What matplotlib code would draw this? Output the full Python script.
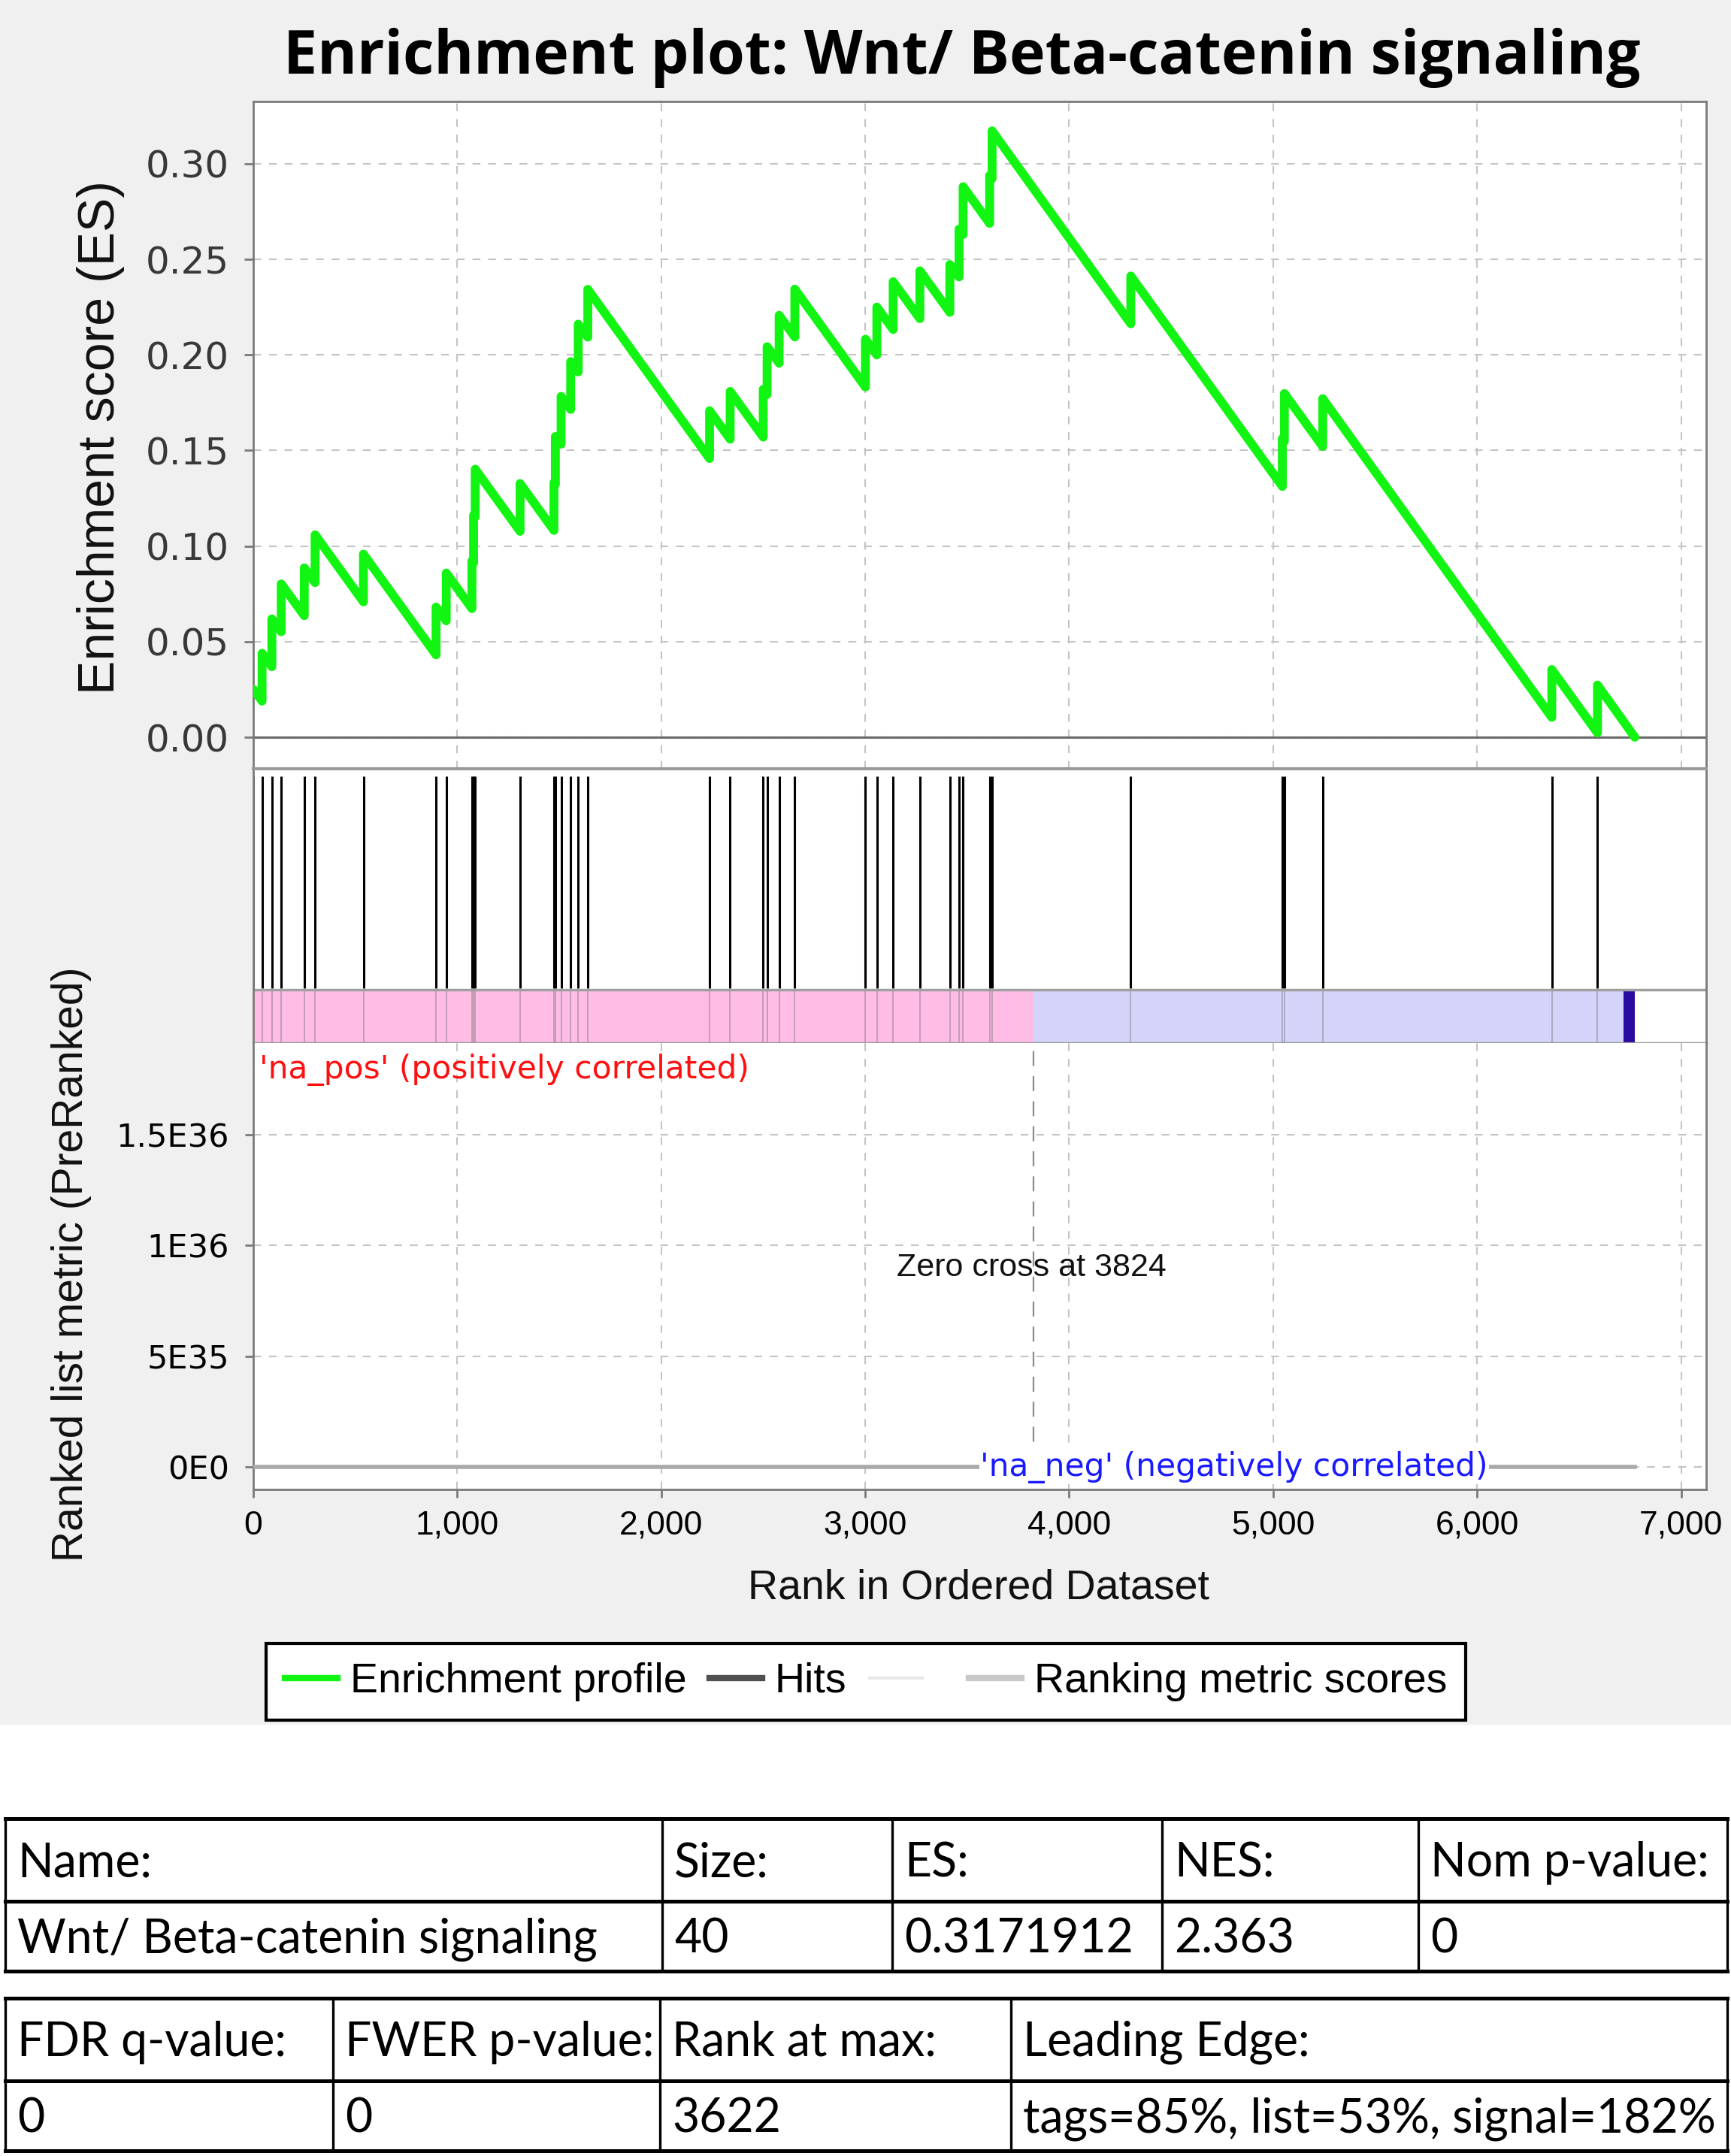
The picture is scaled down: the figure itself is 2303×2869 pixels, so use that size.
import matplotlib
matplotlib.use('Agg')
import matplotlib.pyplot as plt
from matplotlib.lines import Line2D
from matplotlib.patches import Rectangle

plt.rcParams['font.family'] = 'DejaVu Sans'

W, H = 2303, 2869

# ---- values
hit_ranks = [1, 43, 91, 137, 250, 303, 540, 896, 946, 1072, 1080, 1088, 1308,
             1474, 1481, 1509, 1556, 1593, 1640, 2237, 2338, 2500, 2519, 2578,
             2655, 3001, 3057, 3137, 3268, 3415, 3460, 3480, 3610, 3622, 4302,
             5045, 5055, 5243, 6366, 6590]
# running ES just before / just after each hit
es_before = [0.0, 0.0189, 0.0369, 0.0552, 0.0636, 0.0809, 0.0708, 0.0431, 0.0609,
             0.0673, 0.0912, 0.1152, 0.1077, 0.1082, 0.1323, 0.1533, 0.1715, 0.1911,
             0.2093, 0.1458, 0.1559, 0.1570, 0.1793, 0.1957, 0.2094, 0.1832, 0.2000,
             0.2133, 0.2190, 0.2223, 0.2408, 0.2630, 0.2688, 0.2922, 0.2163, 0.1312,
             0.1548, 0.1521, 0.0104, 0.0023]
es_after = [0.0250, 0.0439, 0.0619, 0.0802, 0.0886, 0.1059, 0.0958, 0.0681, 0.0859,
            0.0923, 0.1162, 0.1402, 0.1327, 0.1332, 0.1573, 0.1783, 0.1965, 0.2161,
            0.2343, 0.1708, 0.1809, 0.1820, 0.2043, 0.2207, 0.2344, 0.2082, 0.2250,
            0.2383, 0.2440, 0.2473, 0.2658, 0.2880, 0.2938, 0.3172, 0.2413, 0.1562,
            0.1798, 0.1771, 0.0354, 0.0273]
list_end_rank = 6773
es_end = 0.0

metric_ranks = [1, 6773]
metric_values = [0.0, 0.0]
zero_cross = 3824

band_starts = [0, 3824, 6718]
band_ends = [3824, 6718, 6773]
band_colors = ['#ffbde6', '#d4d4fa', '#2a0aa0']

es_ticks = [0.00, 0.05, 0.10, 0.15, 0.20, 0.25, 0.30]
metric_ticks = [0, 5e35, 1e36, 1.5e36]
metric_ticklabels = ['0E0', '5E35', '1E36', '1.5E36']
rank_ticks = [0, 1000, 2000, 3000, 4000, 5000, 6000, 7000]
rank_ticklabels = ['0', '1,000', '2,000', '3,000', '4,000', '5,000', '6,000', '7,000']

tab1_headers = ['Name:', 'Size:', 'ES:', 'NES:', 'Nom p-value:']
tab1_values = ['Wnt/ Beta-catenin signaling', '40', '0.3171912', '2.363', '0']
tab2_headers = ['FDR q-value:', 'FWER p-value:', 'Rank at max:', 'Leading Edge:']
tab2_values = ['0', '0', '3622', 'tags=85%, list=53%, signal=182%']


def fx(px):
    return px / W


def fy(py):
    return 1 - py / H


fig = plt.figure(figsize=(W / 100, H / 100), dpi=100, facecolor='white')
fig.add_artist(Rectangle((0, fy(2295)), 1, 2295 / H, transform=fig.transFigure,
                         facecolor='#f0f0f0', edgecolor='none', zorder=-5))

L, R = 337, 2270
xmax = 7123
spine_c = '#7a7a7a'
grid_kw = dict(color='#c4c4c4', linestyle=(0, (5, 5)), linewidth=1.5)

ax_es = fig.add_axes([fx(L), fy(1023), (R - L) / W, (1023 - 135) / H])
ax_hit = fig.add_axes([fx(L), fy(1388), (R - L) / W, (1388 - 1023) / H])
ax_met = fig.add_axes([fx(L), fy(1982), (R - L) / W, (1982 - 1388) / H])

for ax in (ax_es, ax_hit, ax_met):
    ax.set_xlim(0, xmax)
    ax.set_facecolor('white')
    for s in ax.spines.values():
        s.set_color(spine_c)
        s.set_linewidth(2)

# ---- enrichment profile
xs = [hit_ranks[0]]
ys = [es_after[0]]
for r, b, a in zip(hit_ranks[1:], es_before[1:], es_after[1:]):
    xs += [r, r]
    ys += [b, a]
xs.append(list_end_rank)
ys.append(es_end)

ax_es.set_ylim(-0.0165, 0.3326)
ax_es.set_yticks(es_ticks)
ax_es.set_yticklabels(['%.2f' % t for t in es_ticks])
ax_es.set_xticks(rank_ticks)
ax_es.grid(True, **grid_kw)
ax_es.axhline(0, color='#6a6a6a', lw=2.2, zorder=2)
ax_es.plot(xs, ys, color='#12f512', lw=8.5, solid_joinstyle='round',
           solid_capstyle='round', zorder=3)
ax_es.spines['bottom'].set_visible(False)
ax_es.tick_params(axis='x', length=0, labelbottom=False)
ax_es.tick_params(axis='y', direction='out', length=9, width=2, color=spine_c,
                  pad=14, labelsize=36, labelcolor='#383838')

# ---- hits + colour bar
ax_hit.set_ylim(0, 1)
ax_hit.set_xticks([])
ax_hit.set_yticks([])
ax_hit.vlines(hit_ranks, 0.2, 0.973, color='black', lw=2.2)
for s0, s1, c in zip(band_starts, band_ends, band_colors):
    ax_hit.axvspan(s0, s1, 0, 0.195, color=c, lw=0)
ax_hit.vlines(hit_ranks, 0, 0.195, color='#707070', lw=1.3, alpha=0.45)
ax_hit.axhline(0.195, color='#a0a0a0', lw=2.5)
ax_hit.spines['top'].set_color('#9a9a9a')
ax_hit.spines['top'].set_linewidth(3)
ax_hit.spines['bottom'].set_color('#9a9a9a')
ax_hit.spines['bottom'].set_linewidth(2.5)

# ---- ranked list metric
ax_met.set_ylim(-0.1017e36, 1.912e36)
ax_met.set_yticks(metric_ticks)
ax_met.set_yticklabels(metric_ticklabels)
ax_met.set_xticks(rank_ticks)
ax_met.set_xticklabels(rank_ticklabels)
ax_met.grid(True, **grid_kw)
ax_met.spines['top'].set_visible(False)
ax_met.plot(metric_ranks, metric_values, color='#a9a9a9', lw=4, zorder=3)
ax_met.vlines(zero_cross, 0, 1.912e36, color='#8c8c8c', lw=1.6,
              linestyles=(0, (9, 6)), zorder=2)
ax_met.tick_params(axis='both', direction='out', length=8, width=2, color=spine_c)
ax_met.tick_params(axis='y', pad=15, labelsize=31, labelcolor='black')
ax_met.tick_params(axis='x', pad=12, labelsize=32, labelcolor='black')
for lab in ax_met.get_xticklabels():
    lab.set_fontfamily('Liberation Sans')

ax_met.text(0.004, 0.941, "'na_pos' (positively correlated)", transform=ax_met.transAxes,
            color='#ff1010', fontsize=30.5, va='center', ha='left')
ax_met.text(4808, 0, "'na_neg' (negatively correlated)", color='#1a1aff', fontsize=30.5,
            va='center', ha='center', zorder=4,
            bbox=dict(facecolor='white', edgecolor='none', pad=1))
ax_met.text(zero_cross - 10, 0.898e36, 'Zero cross at 3824', fontsize=31,
            family='Liberation Sans', ha='center', va='center', color='#111111')

# ---- titles and axis labels
fig.text(fx(1280), fy(98), 'Enrichment plot: Wnt/ Beta-catenin signaling',
         family='Open Sans', weight='bold', fontsize=58, ha='center', va='baseline')
fig.text(fx(134), fy(582), 'Enrichment score (ES)', family='Liberation Sans',
         fontsize=49, rotation=90, ha='center', va='center', color='#111111')
fig.text(fx(95), fy(1682), 'Ranked list metric (PreRanked)', family='Liberation Sans',
         fontsize=41, rotation=90, ha='center', va='center', color='#111111')
fig.text(fx(1302), fy(2113), 'Rank in Ordered Dataset', family='Liberation Sans',
         fontsize=40, ha='center', va='center', color='#111111')

# ---- legend
handles = [Line2D([], [], color='#12f512', lw=6),
           Line2D([], [], color='#505050', lw=6),
           Line2D([], [], color='#e8e8e8', lw=3),
           Line2D([], [], color='#c8c8c8', lw=6)]
labels = ['Enrichment profile', 'Hits', ' ', 'Ranking metric scores']
leg = fig.legend(handles, labels, ncol=4, loc='center',
                 bbox_to_anchor=(fx(1152), fy(2238)),
                 prop={'family': 'Liberation Sans', 'size': 40},
                 handlelength=1.26, handletextpad=0.3, columnspacing=0.55,
                 borderpad=0.45, fancybox=False, framealpha=1)
leg.get_frame().set_edgecolor('black')
leg.get_frame().set_linewidth(3)

# ---- result tables
tab = fig.add_axes([0, 0, 1, 1])
tab.set_xlim(0, W)
tab.set_ylim(H, 0)
tab.axis('off')
tab.patch.set_visible(False)


def draw_table(xe, ye, rows):
    for y in ye:
        tab.plot([xe[0], xe[-1]], [y, y], color='black', lw=3.6, solid_capstyle='projecting')
    for x in xe:
        tab.plot([x, x], [ye[0], ye[-1]], color='black', lw=2.4)
    for i, row in enumerate(rows):
        yc = (ye[i] + ye[i + 1]) / 2 + 4
        for j, txt in enumerate(row):
            tab.text(xe[j] + 16, yc, txt, family='Lato', fontsize=45,
                     ha='left', va='center', color='black')


draw_table([7, 881, 1187, 1546, 1887, 2298], [2420, 2530, 2623],
           [tab1_headers, tab1_values])
draw_table([7, 443, 878, 1345, 2298], [2659, 2769, 2862],
           [tab2_headers, tab2_values])

fig.savefig('out.png', dpi=100, facecolor=fig.get_facecolor())
